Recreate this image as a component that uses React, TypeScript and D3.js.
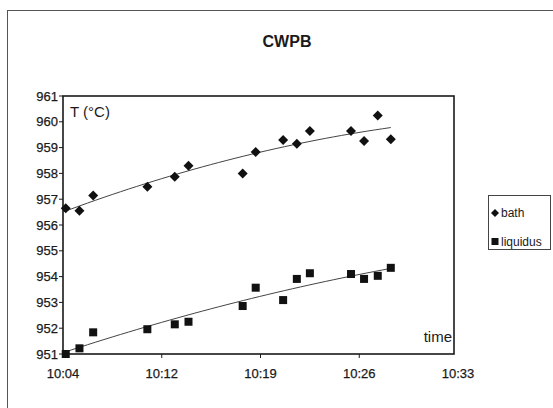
import React from "react";
import { scaleLinear, line } from "d3";

// minutes after 10:04 for each reading
const times = [0.2, 1.2, 2.2, 6.15, 8.15, 9.15, 13.1, 14.05, 16.05, 17.05, 18.0, 21.0, 21.95, 22.95, 23.9];
const bath = [956.65, 956.55, 957.14, 957.48, 957.87, 958.3, 958.0, 958.83, 959.29, 959.15, 959.64, 959.64, 959.26, 960.24, 959.32];
const liquidus = [951.0, 951.22, 951.84, 951.96, 952.15, 952.25, 952.86, 953.57, 953.09, 953.91, 954.13, 954.1, 953.91, 954.03, 954.34];

const xTickLabels = ["10:04", "10:12", "10:19", "10:26", "10:33"];
const xTickStep = 7.2; // minutes between major ticks
const yTicks = [951, 952, 953, 954, 955, 956, 957, 958, 959, 960, 961];

const W = 553;
const H = 408;
const plot = { left: 63, top: 96, right: 454, bottom: 354 };
const font = "'Liberation Sans', Arial, sans-serif";
const ink = "#1a1a1a";

// least squares 2nd order polynomial (same as the excel trendline)
function polyFit(xs: number[], ys: number[]) {
  let s0 = 0, s1 = 0, s2 = 0, s3 = 0, s4 = 0, t0 = 0, t1 = 0, t2 = 0;
  for (let i = 0; i < xs.length; i++) {
    const x = xs[i], y = ys[i];
    s0 += 1; s1 += x; s2 += x * x; s3 += x * x * x; s4 += x * x * x * x;
    t0 += y; t1 += x * y; t2 += x * x * y;
  }
  const m = [
    [s0, s1, s2, t0],
    [s1, s2, s3, t1],
    [s2, s3, s4, t2],
  ];
  for (let c = 0; c < 3; c++) {
    for (let r = c + 1; r < 3; r++) {
      const f = m[r][c] / m[c][c];
      for (let k = c; k < 4; k++) m[r][k] -= f * m[c][k];
    }
  }
  const b = [0, 0, 0];
  for (let r = 2; r >= 0; r--) {
    let s = m[r][3];
    for (let k = r + 1; k < 3; k++) s -= m[r][k] * b[k];
    b[r] = s / m[r][r];
  }
  return (x: number) => b[0] + b[1] * x + b[2] * x * x;
}

const App = () => {
  const xScale = scaleLinear().domain([0, xTickStep * 4]).range([plot.left, 458]);
  const yScale = scaleLinear().domain([951, 961]).range([plot.bottom, plot.top]);

  const trend = (vals: number[]) => {
    const f = polyFit(times, vals);
    const x0 = 0, x1 = times[times.length - 1];
    const pts: [number, number][] = [];
    for (let i = 0; i <= 40; i++) {
      const x = x0 + ((x1 - x0) * i) / 40;
      pts.push([x, f(x)]);
    }
    return line<[number, number]>()
      .x((d) => xScale(d[0]))
      .y((d) => yScale(d[1]))(pts) as string;
  };

  const diamond = (cx: number, cy: number, r: number) =>
    `M${cx},${cy - r}L${cx + r},${cy}L${cx},${cy + r}L${cx - r},${cy}Z`;

  return (
    <svg width={W} height={H} style={{ position: "absolute", left: 0, top: 0, background: "#fff" }}>
      {/* chart area border, runs off the page */}
      <rect x={7.5} y={10.5} width={700} height={600} fill="none" stroke="#555" strokeWidth={1} />

      <text x={287} y={47} textAnchor="middle" fontFamily={font} fontWeight="bold" fontSize={16} fill={ink}>
        CWPB
      </text>

      {/* plot frame */}
      <rect x={plot.left} y={plot.top} width={plot.right - plot.left} height={plot.bottom - plot.top}
        fill="none" stroke={ink} strokeWidth={1.6} />

      {/* y axis */}
      {yTicks.map((t) => (
        <g key={t}>
          <line x1={plot.left - 4} x2={plot.left} y1={yScale(t)} y2={yScale(t)} stroke={ink} />
          <text x={plot.left - 5} y={yScale(t) + 4.5} textAnchor="end" fontFamily={font} fontSize={13}
            fill={ink} stroke={ink} strokeWidth={0.25}>
            {t}
          </text>
        </g>
      ))}

      {/* x axis */}
      {xTickLabels.map((lbl, i) => (
        <g key={lbl}>
          {xScale(i * xTickStep) < plot.right && (
            <line x1={xScale(i * xTickStep)} x2={xScale(i * xTickStep)} y1={plot.bottom} y2={plot.bottom + 4} stroke={ink} />
          )}
          <text x={xScale(i * xTickStep)} y={378} textAnchor="middle" fontFamily={font} fontSize={13}
            fill={ink} stroke={ink} strokeWidth={0.25}>
            {lbl}
          </text>
        </g>
      ))}

      <text x={70} y={117} fontFamily={font} fontSize={15} fill={ink}>T (°C)</text>
      <text x={452} y={342} textAnchor="end" fontFamily={font} fontSize={15} fill={ink}>time</text>

      {/* trend lines */}
      <path d={trend(bath)} fill="none" stroke="#444" strokeWidth={1} />
      <path d={trend(liquidus)} fill="none" stroke="#444" strokeWidth={1} />

      {/* markers */}
      {times.map((t, i) => (
        <path key={"b" + i} d={diamond(xScale(t), yScale(bath[i]), 5)} fill="#111" />
      ))}
      {times.map((t, i) => (
        <rect key={"l" + i} x={xScale(t) - 4} y={yScale(liquidus[i]) - 4} width={8} height={8} fill="#111" />
      ))}

      {/* legend */}
      <rect x={488.5} y={195.5} width={62} height={54} fill="#fff" stroke="#444" strokeWidth={1} />
      <path d={diamond(495, 213, 4)} fill="#111" />
      <text x={501} y={217} fontFamily={font} fontSize={12} fill={ink}>bath</text>
      <rect x={491.5} y={238} width={7} height={7} fill="#111" />
      <text x={501} y={246} fontFamily={font} fontSize={12} fill={ink}>liquidus</text>
    </svg>
  );
};

export default App;
